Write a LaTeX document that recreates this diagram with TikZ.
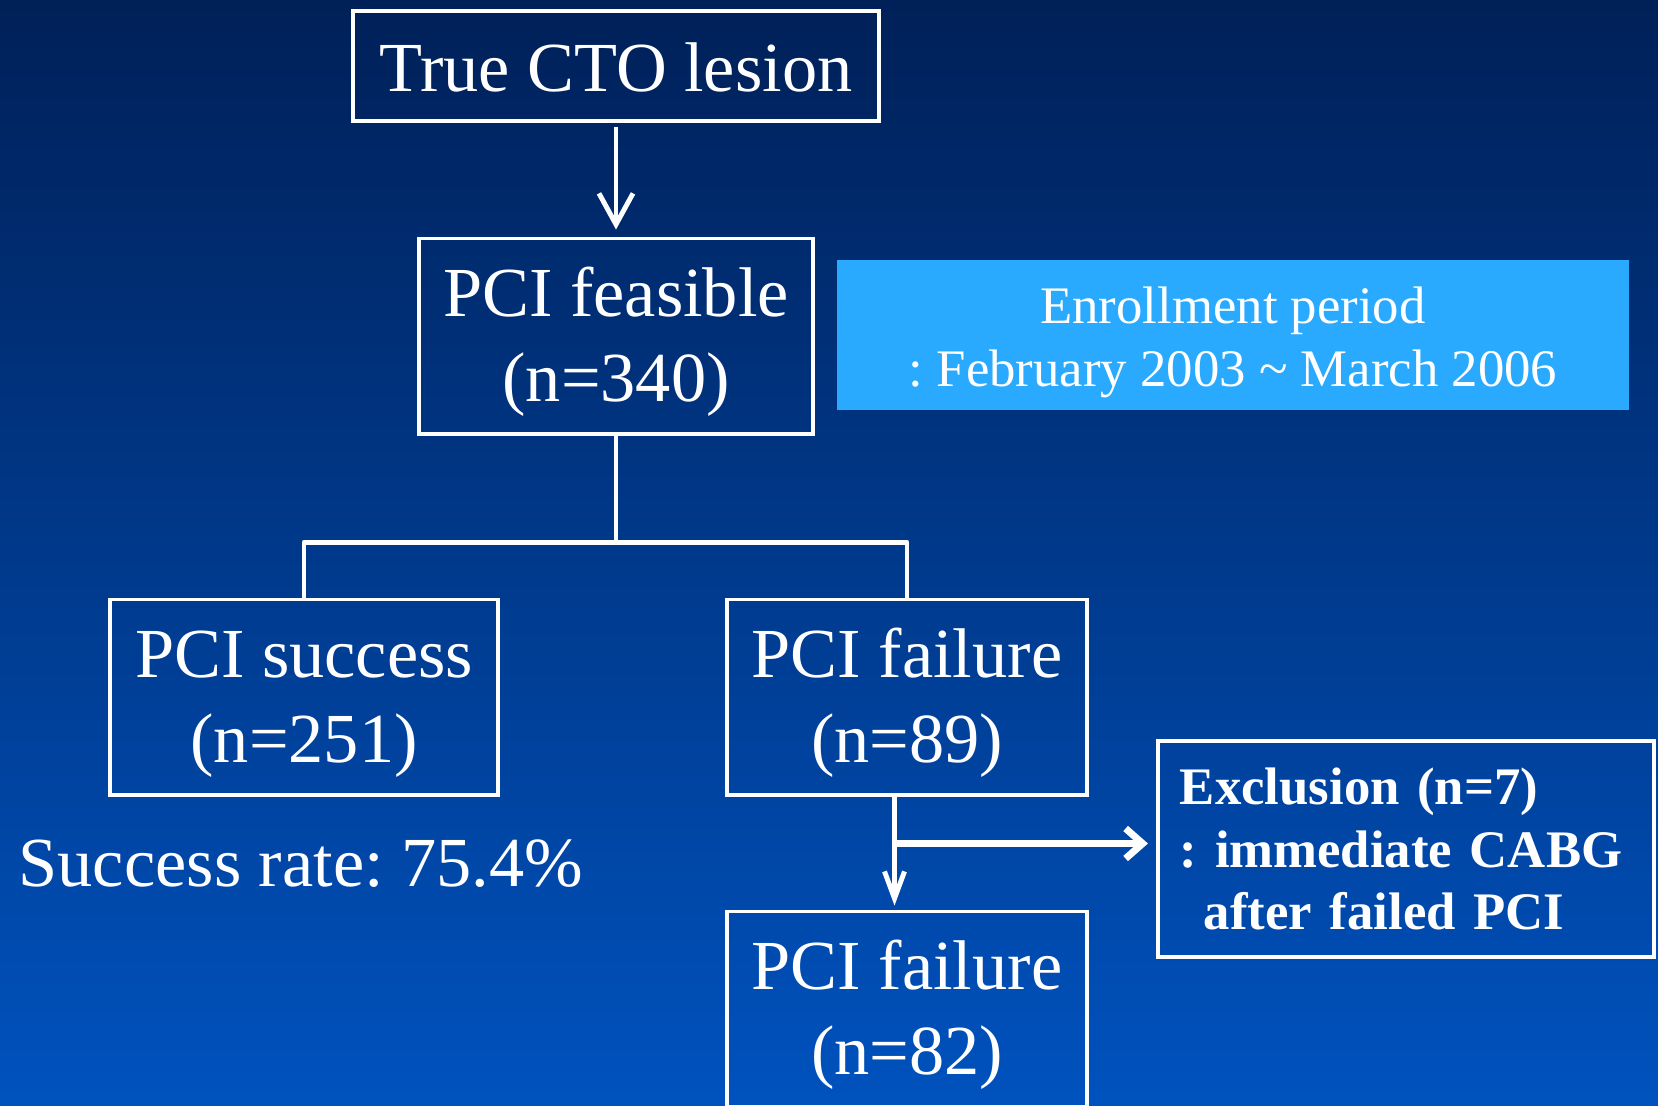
\documentclass[tikz,border=0pt]{standalone}
\usepackage{fontspec}
\setmainfont{Liberation Serif}
\frenchspacing
\usetikzlibrary{arrows.meta,positioning,calc}
\definecolor{bgtop}{RGB}{0,32,88}
\definecolor{bgmid}{RGB}{0,64,152}
\definecolor{bgbot}{RGB}{0,82,190}
\definecolor{sky}{RGB}{41,170,255}
\tikzset{
  >={Straight Barb[length=3.1mm,width=3.4mm]},
  stage/.style={draw=white,line width=1.1pt,text=white,align=center,inner sep=0pt,
    font=\fontsize{20}{24}\selectfont,minimum width=#1,minimum height=19.5mm,
    text height=41.4pt},
  stage/.default=36mm,
  period box/.style={fill=sky,text=white,align=center,inner sep=0pt,
    font=\fontsize{15}{18}\selectfont,minimum width=79.1mm,minimum height=14.9mm,
    text height=32.5pt},
  excl box/.style={draw=white,line width=1.1pt,text=white,align=left,
    text width=45.2mm,inner xsep=2.2mm,minimum height=21.6mm,
    font=\bfseries\fontsize{15}{17.7}\selectfont},
  link/.style={draw=white,line width=1.4pt,line join=round},
}

\begin{document}
\begin{tikzpicture}[x=0.01cm,y=-0.01cm]
    \useasboundingbox (0,0) rectangle (1658,1105);
    \clip (0,0) rectangle (1658,1105);
    \shade[top color=bgtop,middle color=bgmid,bottom color=bgbot] (0,0) rectangle (1658,1105);

    % flow boxes
    \node[stage=52.5mm,minimum height=11mm,text height=14.5pt] (cto) at (616,66) {True CTO lesion};
    \node[stage=39.4mm] (feasible) at (616,336) {PCI feasible\\(n=340)};
    \node[period box] (period) at (1233,335) {Enrollment period\\: February 2003 \textasciitilde{} March 2006};
    \node[stage=38.7mm] (success) at (304,697) {PCI success\\(n=251)};
    \node[stage=36mm] (failure) at (907,697) {PCI failure\\(n=89)};
    \node[stage=36mm] (failtwo) at (907,1009) {PCI failure\\(n=82)};
    \node[excl box] (excl) at (1406,849) {Exclusion (n=7)\\: immediate CABG\\\hspace*{2.4mm}after failed PCI};
    \node[anchor=base west,text=white,inner sep=0pt,font=\fontsize{20}{24}\selectfont] (rate) at (18,886) {Success rate: 75.4\%};

    % connectors
    \draw[link,->,shorten <=0.45mm,shorten >=0.7mm] (cto) -- (feasible);
    \coordinate (split) at ($(feasible.south)+(0,107)$);
    \draw[link] (feasible) -- (split);
    \draw[link] (success.north) |- (split) -| (failure.north);
    \coordinate (fork) at ($(failure.south)+(-12.5,47)$);
    \draw[link,-{Straight Barb[length=2.7mm,width=2mm]},shorten >=0.4mm] (failure.south -| fork) -- (failtwo.north -| fork);
    \draw[link,line width=2pt,-{Straight Barb[length=1.7mm,width=3mm]},shorten >=0.8mm] (fork) -- (fork -| excl.west);
\end{tikzpicture}
\end{document}
